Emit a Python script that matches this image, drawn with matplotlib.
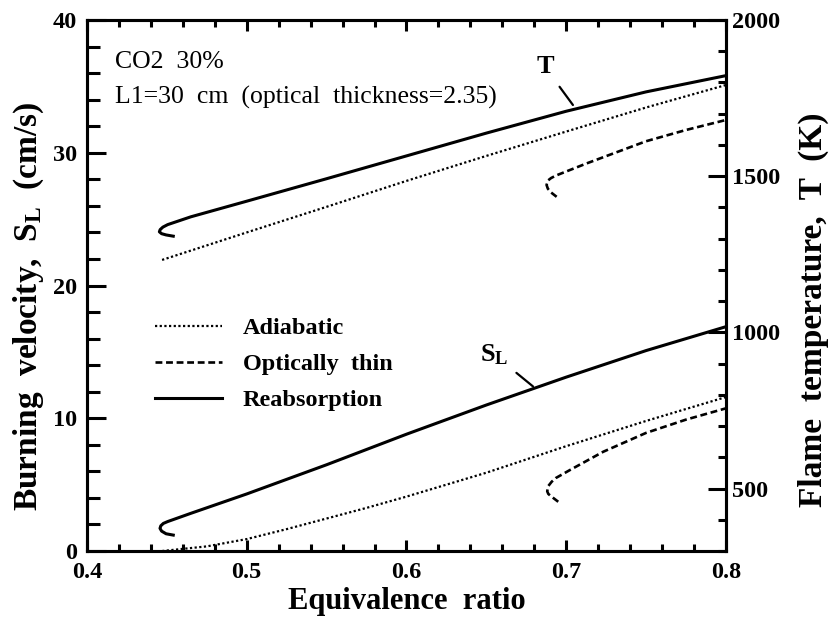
import matplotlib
matplotlib.use('Agg')
import matplotlib.pyplot as plt
from matplotlib.ticker import MultipleLocator, FixedLocator

# ---------------- data ----------------
# Reabsorption (solid)
phi_T_reab = [0.454, 0.4495, 0.4467, 0.4453, 0.4458, 0.4475, 0.4505, 0.465, 0.50, 0.55, 0.60, 0.65, 0.70, 0.75, 0.80]
T_reab     = [1308, 1312, 1316, 1322, 1329, 1337, 1345, 1370, 1420, 1492, 1565, 1638, 1708, 1770, 1822]
phi_S_reab = [0.454, 0.4495, 0.4467, 0.4457, 0.4462, 0.4478, 0.4505, 0.465, 0.50, 0.55, 0.60, 0.65, 0.70, 0.75, 0.80]
S_reab     = [1.2, 1.3, 1.5, 1.71, 1.9, 2.08, 2.22, 2.84, 4.3, 6.5, 8.8, 11.0, 13.1, 15.1, 16.9]

# Optically thin (dashed)
phi_T_thin = [0.694, 0.6905, 0.6885, 0.6877, 0.6885, 0.6905, 0.6935, 0.7128, 0.75, 0.775, 0.80]
T_thin     = [1434, 1448, 1460, 1472, 1486, 1494, 1502, 1541, 1612, 1648, 1680]
phi_S_thin = [0.695, 0.6909, 0.6888, 0.6881, 0.6888, 0.6909, 0.6935, 0.7023, 0.7232, 0.75, 0.775, 0.80]
S_thin     = [3.71, 4.09, 4.3, 4.5, 4.9, 5.22, 5.5, 6.1, 7.48, 8.9, 9.9, 10.75]

# Adiabatic (dotted)
phi_T_adia = [0.447, 0.50, 0.55, 0.60, 0.65, 0.70, 0.75, 0.80]
T_adia     = [1232, 1320, 1402, 1485, 1565, 1643, 1720, 1792]
phi_S_adia = [0.447, 0.475, 0.50, 0.525, 0.55, 0.575, 0.60, 0.65, 0.70, 0.75, 0.80]
S_adia     = [0.0, 0.35, 0.9, 1.65, 2.45, 3.25, 4.1, 5.9, 7.9, 9.8, 11.6]

x_ticks = [0.4, 0.5, 0.6, 0.7, 0.8]
x_ticklabels = ['0.4', '0.5', '0.6', '0.7', '0.8']
yl_ticks = [0, 10, 20, 30, 40]
yr_ticks = [500, 1000, 1500, 2000]

legend_labels = ['Adiabatic', 'Optically  thin', 'Reabsorption']

# ---------------- style ----------------
plt.rcParams['font.family'] = ['Liberation Serif', 'DejaVu Serif']
plt.rcParams['font.weight'] = 'bold'
plt.rcParams['axes.labelweight'] = 'bold'
plt.rcParams['mathtext.fontset'] = 'custom'
plt.rcParams['mathtext.rm'] = 'Liberation Serif:bold'
plt.rcParams['mathtext.it'] = 'Liberation Serif:bold'
plt.rcParams['mathtext.bf'] = 'Liberation Serif:bold'

fig = plt.figure(figsize=(8.31, 6.22), dpi=100)
ax = fig.add_axes([0.1047, 0.1141, 0.7689, 0.8537])
ax2 = ax.twinx()

solid = dict(color='black', lw=2.2, linestyle='-')
dashed = dict(color='black', lw=1.9, linestyle=(0, (2.6, 1.4)))
dotted = dict(color='black', lw=1.6, linestyle=(0, (1, 1.1)))

l_adia, = ax.plot(phi_S_adia, S_adia, **dotted)
l_thin, = ax.plot(phi_S_thin, S_thin, **dashed)
l_reab, = ax.plot(phi_S_reab, S_reab, **solid)

ax2.plot(phi_T_adia, T_adia, **dotted)
ax2.plot(phi_T_thin, T_thin, **dashed)
ax2.plot(phi_T_reab, T_reab, **solid)

ax.set_xlim(0.4, 0.8)
ax.set_ylim(0, 40)
ax2.set_ylim(300, 2000)

ax.xaxis.set_major_locator(FixedLocator(x_ticks))
ax.set_xticklabels(x_ticklabels)
ax.xaxis.set_minor_locator(MultipleLocator(0.02))
ax.yaxis.set_major_locator(FixedLocator(yl_ticks))
ax.yaxis.set_minor_locator(MultipleLocator(2))
ax2.yaxis.set_major_locator(FixedLocator(yr_ticks))
ax2.yaxis.set_minor_locator(MultipleLocator(100))

for sp in list(ax.spines.values()) + list(ax2.spines.values()):
    sp.set_linewidth(2.2)

ax.tick_params(axis='x', which='major', direction='in', length=8, width=2.2,
               top=True, labelsize=17.5, pad=8)
ax.tick_params(axis='x', which='minor', direction='in', length=5, width=2.2, top=True)
ax.tick_params(axis='y', which='major', direction='in', length=14, width=2.2,
               labelsize=17.5, pad=7, right=False)
ax.tick_params(axis='y', which='minor', direction='in', length=9, width=2.2, right=False)
ax2.tick_params(axis='y', which='major', direction='in', length=13, width=2.2,
                labelsize=17.5, pad=4)
ax2.tick_params(axis='y', which='minor', direction='in', length=6, width=2.2)

ax.set_xlabel('Equivalence  ratio', fontsize=22, fontweight='bold', labelpad=3)
ax.set_ylabel(r'Burning  velocity,  $\mathrm{S}_{\mathrm{L}}$  (cm/s)', fontsize=24,
              fontweight='bold')
ax2.set_ylabel('Flame  temperature,  T  (K)', fontsize=24, fontweight='bold')
ax.yaxis.set_label_coords(-0.064, 0.46)
ax2.yaxis.set_label_coords(1.112, 0.455)

ax.text(0.044, 0.921, 'CO2  30%', transform=ax.transAxes, fontsize=18.5,
        fontweight='normal', va='center', ha='left')
ax.text(0.044, 0.855, 'L1=30  cm  (optical  thickness=2.35)', transform=ax.transAxes,
        fontsize=18.5, fontweight='normal', va='center', ha='left')

ax2.annotate('T', xy=(0.7042, 1728), xytext=(0.6867, 1850),
             fontsize=19, ha='center', va='center',
             arrowprops=dict(arrowstyle='-', lw=1.6, color='black', shrinkA=5, shrinkB=0))
ax.annotate(r'$\mathrm{S}_{\mathrm{L}}$', xy=(0.6792, 12.4), xytext=(0.6548, 14.8),
            fontsize=19, ha='center', va='center',
            arrowprops=dict(arrowstyle='-', lw=1.6, color='black', shrinkA=5, shrinkB=0))

ax.legend([l_adia, l_thin, l_reab], legend_labels, loc='upper left',
          bbox_to_anchor=(0.1064, 0.440), frameon=False, fontsize=17.5,
          handlelength=2.75, handletextpad=0.86, labelspacing=0.57,
          borderpad=0, borderaxespad=0)

fig.savefig('out.png', dpi=100)
